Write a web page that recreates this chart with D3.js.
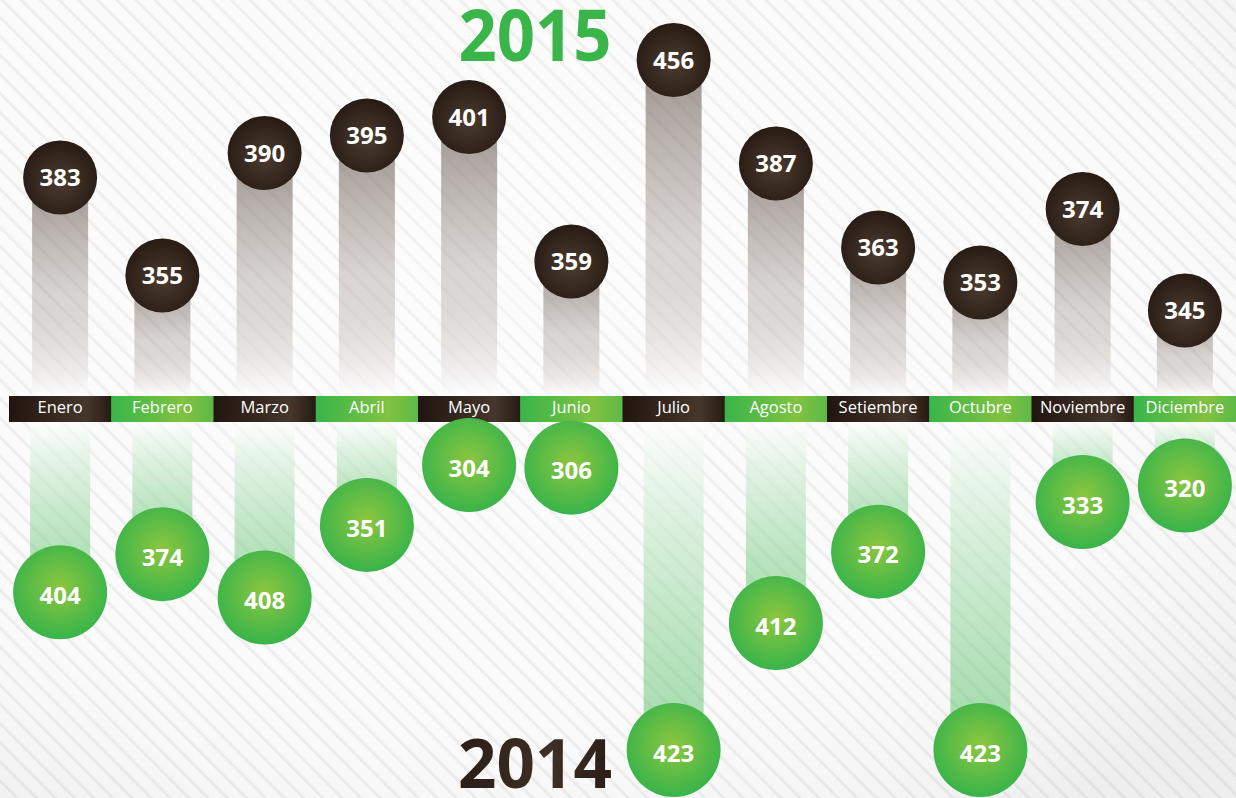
<!DOCTYPE html>
<html><head><meta charset="utf-8">
<script src="https://cdn.jsdelivr.net/npm/d3@7"></script>
<style>html,body{margin:0;padding:0;background:#fafafa;overflow:hidden}</style>
</head><body><svg id="chart" width="1236" height="798"></svg>
<script>
// ---- data ----
const months = ["Enero","Febrero","Marzo","Abril","Mayo","Junio","Julio","Agosto","Setiembre","Octubre","Noviembre","Diciembre"];
const values2015 = [383,355,390,395,401,359,456,387,363,353,374,345];
const values2014 = [404,374,408,351,304,306,423,412,372,423,333,320];
const yearTop = "2015";
const yearBottom = "2014";

const W = 1236, H = 798;
const svg = d3.select("#chart");
const defs = svg.append("defs");

// background stripes
const pat = defs.append("pattern").attr("id","stripes").attr("patternUnits","userSpaceOnUse")
  .attr("width",13.5).attr("height",13.5).attr("patternTransform","rotate(-45)");
pat.append("rect").attr("width",13.5).attr("height",13.5).attr("fill","#fbfbfb");
pat.append("rect").attr("x",0).attr("width",3).attr("height",13.5).attr("fill","#eeeeee");

const vig = defs.append("radialGradient").attr("id","vig").attr("cx","40%").attr("cy","35%").attr("r","80%");
vig.append("stop").attr("offset","0%").attr("stop-color","#fff").attr("stop-opacity",0.35);
vig.append("stop").attr("offset","60%").attr("stop-color","#fff").attr("stop-opacity",0);
vig.append("stop").attr("offset","100%").attr("stop-color","#000").attr("stop-opacity",0.05);

// bar gradients
const gTopBar = defs.append("linearGradient").attr("id","gTopBar").attr("x1",0).attr("y1",0).attr("x2",0).attr("y2",1);
gTopBar.append("stop").attr("offset","0%").attr("stop-color","#5a4a40").attr("stop-opacity",0.6);
gTopBar.append("stop").attr("offset","55%").attr("stop-color","#9a8e87").attr("stop-opacity",0.35);
gTopBar.append("stop").attr("offset","100%").attr("stop-color","#ffffff").attr("stop-opacity",0.7);

const gBotBar = defs.append("linearGradient").attr("id","gBotBar").attr("x1",0).attr("y1",0).attr("x2",0).attr("y2",1);
gBotBar.append("stop").attr("offset","0%").attr("stop-color","#ffffff").attr("stop-opacity",0.6);
gBotBar.append("stop").attr("offset","100%").attr("stop-color","#39b54a").attr("stop-opacity",0.45);

// circle gradients
const gDark = defs.append("radialGradient").attr("id","gDark").attr("cx","50%").attr("cy","55%").attr("r","55%");
gDark.append("stop").attr("offset","0%").attr("stop-color","#4c3c30");
gDark.append("stop").attr("offset","100%").attr("stop-color","#271b14");
const gGreen = defs.append("radialGradient").attr("id","gGreen").attr("cx","50%").attr("cy","45%").attr("r","55%");
gGreen.append("stop").attr("offset","0%").attr("stop-color","#8dc63f");
gGreen.append("stop").attr("offset","100%").attr("stop-color","#38b44a");

// band gradients
const gBandDark = defs.append("linearGradient").attr("id","gBandDark").attr("x1",0).attr("x2",1).attr("y1",0).attr("y2",0);
gBandDark.append("stop").attr("offset","0%").attr("stop-color","#21150f");
gBandDark.append("stop").attr("offset","75%").attr("stop-color","#46372c");
gBandDark.append("stop").attr("offset","100%").attr("stop-color","#261a13");
const gBandGreen = defs.append("linearGradient").attr("id","gBandGreen").attr("x1",0).attr("x2",1).attr("y1",0).attr("y2",0);
gBandGreen.append("stop").attr("offset","0%").attr("stop-color","#39b54a");
gBandGreen.append("stop").attr("offset","70%").attr("stop-color","#80c241");
gBandGreen.append("stop").attr("offset","100%").attr("stop-color","#5dba46");

const gYear = defs.append("linearGradient").attr("id","gYear").attr("x1",0).attr("x2",1);
gYear.append("stop").attr("offset","0%").attr("stop-color","#2a1d16");
gYear.append("stop").attr("offset","60%").attr("stop-color","#3f3026");
gYear.append("stop").attr("offset","100%").attr("stop-color","#2a1d16");

svg.append("rect").attr("width",W).attr("height",H).attr("fill","url(#stripes)");
svg.append("rect").attr("width",W).attr("height",H).attr("fill","url(#vig)");

// ---- scales ----
const bandTop = 396, bandBot = 422;
const x = d3.scaleBand().domain(months).range([9, W]).padding(0);
const yTop = d3.scaleLinear().domain([340,400,456]).range([328,118,60]);
const yBot = d3.scaleLinear().domain([300,410,423]).range([460,600,750]);

const d15 = months.map((m,i)=>({m, v: values2015[i], i}));
const d14 = months.map((m,i)=>({m, v: values2014[i], i}));
const cx = d => x(d.m) + x.bandwidth()/2;

// bars
svg.append("g").selectAll("rect").data(d15).join("rect")
  .attr("x", d => cx(d) - 28).attr("width", 56)
  .attr("y", d => yTop(d.v)).attr("height", d => bandTop - yTop(d.v))
  .attr("fill","url(#gTopBar)");
svg.append("g").selectAll("rect").data(d14).join("rect")
  .attr("x", d => cx(d) - 30).attr("width", 60)
  .attr("y", bandBot).attr("height", d => yBot(d.v) - bandBot)
  .attr("fill","url(#gBotBar)");

// band
const band = svg.append("g");
band.selectAll("rect").data(months).join("rect")
  .attr("x", d => x(d)).attr("width", x.bandwidth()+0.5)
  .attr("y", bandTop).attr("height", bandBot - bandTop)
  .attr("fill", (d,i) => i % 2 === 0 ? "url(#gBandDark)" : "url(#gBandGreen)");
band.selectAll("text").data(months).join("text")
  .attr("x", d => x(d) + x.bandwidth()/2).attr("y", bandTop + 16.5)
  .attr("text-anchor","middle").attr("fill","#fff")
  .style("font-family","'Open Sans', sans-serif").style("font-size","16.5px")
  .text(d => d);

// years
svg.append("text").attr("x",535).attr("y",61).attr("text-anchor","middle")
  .attr("textLength",153).attr("lengthAdjust","spacingAndGlyphs")
  .attr("fill","#39b54a").style("font-family","'Open Sans', sans-serif").style("font-weight",700)
  .style("font-size","71px").text(yearTop);
svg.append("text").attr("x",535).attr("y",788).attr("text-anchor","middle")
  .attr("textLength",154).attr("lengthAdjust","spacingAndGlyphs")
  .attr("fill","url(#gYear)").style("font-family","'Open Sans', sans-serif").style("font-weight",700)
  .style("font-size","68px").text(yearBottom);

// circles
const gTopCircles = svg.append("g");
gTopCircles.selectAll("circle").data(d15).join("circle")
  .attr("cx", cx).attr("cy", d => yTop(d.v)).attr("r", 37).attr("fill","url(#gDark)");
gTopCircles.selectAll("text").data(d15).join("text")
  .attr("x", cx).attr("y", d => yTop(d.v)).attr("dy","0.36em")
  .attr("text-anchor","middle").attr("fill","#fff")
  .style("font-family","'Open Sans', sans-serif").style("font-weight",700).style("font-size","24px")
  .text(d => d.v);

const gBotCircles = svg.append("g");
gBotCircles.selectAll("circle").data(d14).join("circle")
  .attr("cx", cx).attr("cy", d => yBot(d.v)).attr("r", 47).attr("fill","url(#gGreen)");
gBotCircles.selectAll("text").data(d14).join("text")
  .attr("x", cx).attr("y", d => yBot(d.v) + 3).attr("dy","0.36em")
  .attr("text-anchor","middle").attr("fill","#fff")
  .style("font-family","'Open Sans', sans-serif").style("font-weight",700).style("font-size","24px")
  .text(d => d.v);
</script></body></html>
